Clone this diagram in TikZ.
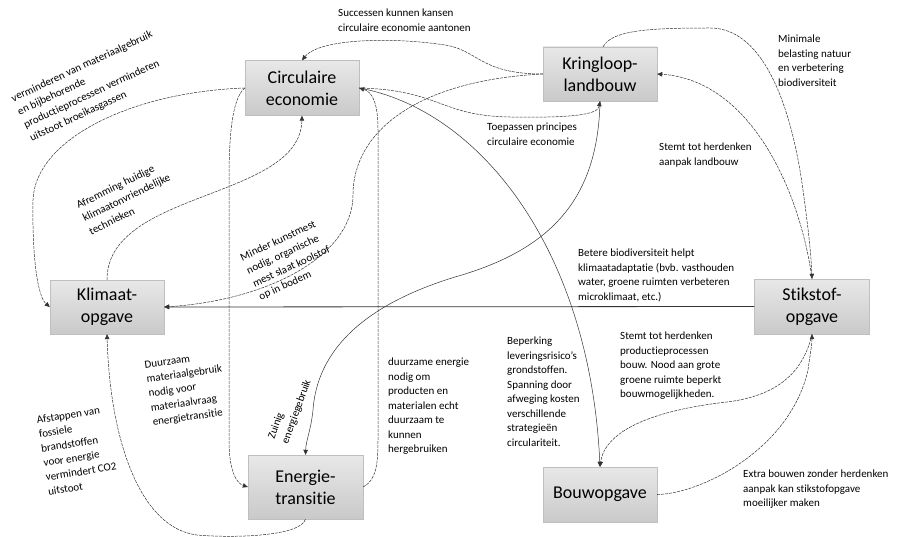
\documentclass[tikz,border=0pt]{standalone}
\usepackage{fontspec}
\setmainfont[Ligatures=NoCommon]{Carlito}
\usetikzlibrary{arrows.meta}
\newcommand{\lijnkleur}{black!80}
\tikzset{
  blok/.style={draw=gray!50, top color=gray!18, bottom color=gray!42, inner sep=0pt,
    minimum width=114pt, minimum height=55pt, align=center, font=\fontsize{18}{22}\selectfont},
  pijl/.style={draw=\lijnkleur, line width=0.5pt, dash pattern=on 3pt off 1pt,
    -{Triangle[length=5pt,width=4.5pt]}},
  vast/.style={draw=\lijnkleur, line width=0.5pt, -{Triangle[length=5pt,width=4.5pt]}},
  tekst/.style={inner sep=0pt, align=left, anchor=north west, font=\fontsize{11}{14.5}\selectfont},
}

\begin{document}
\begin{tikzpicture}[x=1pt,y=-1pt]
\useasboundingbox (0,0) rectangle (904,537);
% de zes opgaven
\node[blok] (circ) at (302,88) {Circulaire\\economie};
\node[blok, minimum height=54pt] (kring) at (600,74) {Kringloop-\\landbouw};
\node[blok, minimum height=54pt] (klim) at (107,307) {Klimaat-\\opgave};
\node[blok, minimum width=115pt] (stik) at (812,306.5) {Stikstof-\\opgave};
\node[blok, minimum width=115pt, minimum height=64pt] (ener) at (305.5,487) {Energie-\\transitie};
\node[blok] (bouw) at (600,494.5) {Bouwopgave};
% relaties
\draw[pijl] (kring.west) .. controls (480,74) and (478,50) .. (445,45) .. controls (385,36) and (318,40) .. (circ.north);
\draw[pijl] (circ.east) .. controls (440,90) and (440,116) .. (510,117) .. controls (570,118) and (598,115) .. (kring.south);
\draw[vast] (circ.east) .. controls (480,110) and (590,250) .. (bouw.north);
\draw[pijl] (ener.east) .. controls (376,480) and (378,465) .. (378,440) -- (378,130) .. controls (378,102) and (372,92) .. (circ.east);
\draw[pijl] (circ.west) .. controls (233,98) and (229,130) .. (229,180) -- (229,440) .. controls (229,470) and (236,483) .. (ener.west);
\draw[pijl] (circ.west) .. controls (130,92) and (35,140) .. (33,200) .. controls (32,260) and (38,297) .. (klim.west);
\draw[pijl] (klim.north) .. controls (107,190) and (300,200) .. (circ.south);
\draw[pijl] (kring.west) .. controls (420,80) and (353,130) .. (353,195) .. controls (353,255) and (270,300) .. (klim.east);
\draw[vast, line width=0.8pt] (stik.west) -- (klim.east);
\draw[pijl] (ener.south) .. controls (300,537) and (230,538) .. (197,535) .. controls (140,528) and (110,440) .. (klim.south);
\draw[pijl] ([xshift=3pt]kring.north) .. controls (612,30) and (650,28) .. (710,28) .. controls (765,28) and (792,110) .. (803,190) .. controls (807,220) and (811,250) .. (stik.north);
\draw[pijl] (stik.north) .. controls (800,190) and (750,80) .. (kring.east);
\draw[vast] (kring.south) .. controls (598,200) and (550,250) .. (455,277) .. controls (380,300) and (318,340) .. (313,410) .. controls (311,430) and (306,440) .. (ener.north);
\draw[pijl] (stik.south) .. controls (805,365) and (785,395) .. (727,402) .. controls (655,410) and (605,430) .. (bouw.north);
\draw[pijl] (bouw.east) .. controls (700,494) and (790,450) .. (808,370) .. controls (810,355) and (812,345) .. (stik.south);
% teksten bij de relaties
\node[tekst] (lsucc) at (338,9) {Successen kunnen kansen\\circulaire economie aantonen};
\node[tekst] (ltoep) at (487,123) {Toepassen principes\\circulaire economie};
\node[tekst] (lmini) at (778,35) {Minimale\\belasting natuur\\en verbetering\\biodiversiteit};
\node[tekst] (lland) at (659,143) {Stemt tot herdenken\\aanpak landbouw};
\node[tekst] (lbiod) at (578,249) {Betere biodiversiteit helpt\\klimaatadaptatie (bvb. vasthouden\\water, groene ruimten verbeteren\\microklimaat, etc.)};
\node[tekst] (lbouw) at (620,332) {Stemt tot herdenken\\productieprocessen\\bouw. Nood aan grote\\groene ruimte beperkt\\bouwmogelijkheden.};
\node[tekst] (lbepe) at (507,337) {Beperking\\leveringsrisico’s\\grondstoffen.\\Spanning door\\afweging kosten\\verschillende\\strategieën\\circulariteit.};
\node[tekst] (lduen) at (388,358) {duurzame energie\\nodig om\\producten en\\materialen echt\\duurzaam te\\kunnen\\hergebruiken};
\node[tekst] (lextr) at (743,470) {Extra bouwen zonder herdenken\\aanpak kan stikstofopgave\\moeilijker maken};
\node[tekst, rotate=25] (lverm) at (10,95) {verminderen van materiaalgebruik\\en bijbehorende\\productieprocessen verminderen\\uitstoot broeikasgassen};
\node[tekst, rotate=26] (lafre) at (75,202) {Afremming huidige\\klimaatonvriendelijke\\technieken};
\node[tekst, rotate=25] (lmind) at (239,254) {Minder kunstmest\\nodig, organische\\mest slaat koolstof\\op in bodem};
\node[tekst, rotate=8] (lduur) at (144,361) {Duurzaam\\materiaalgebruik\\nodig voor\\materiaalvraag\\energietransitie};
\node[tekst, rotate=9] (lafst) at (36,416) {Afstappen van\\fossiele\\brandstoffen\\voor energie\\vermindert CO2\\uitstoot};
\node[tekst, rotate=70] (lzuin) at (267,437) {Zuinig\\energiegebruik};
\end{tikzpicture}
\end{document}
